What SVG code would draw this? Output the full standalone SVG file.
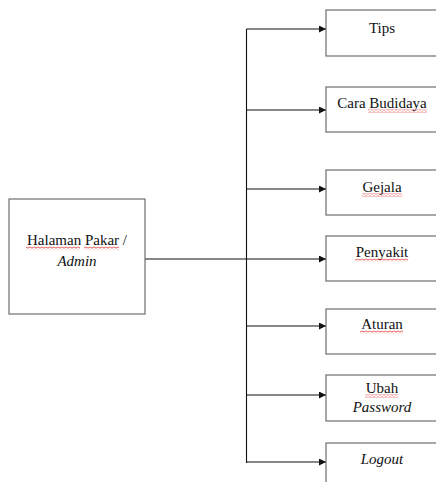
<svg xmlns="http://www.w3.org/2000/svg" width="436" height="482" viewBox="0 0 436 482" font-family="Liberation Serif, serif">
<style>
.box{fill:#fff;stroke:#6e6e6e;stroke-width:1.2}
.ln{fill:none;stroke:#111;stroke-width:1.1}
.t{font-size:15px;fill:#111;text-anchor:middle}
.i{font-style:italic}
.sq{fill:url(#squig)}
</style>
<defs>
<marker id="arr" viewBox="0 0 10 10" refX="10" refY="5" markerWidth="9" markerHeight="7" markerUnits="userSpaceOnUse" orient="auto">
<path d="M0 0 L10 5 L0 10 Z" fill="#111"/>
</marker>
<pattern id="squig" width="4" height="3" patternUnits="userSpaceOnUse">
<path d="M0 2.2 L2 0.8 L4 2.2" fill="none" stroke="#e02020" stroke-width="0.8"/>
</pattern>
</defs>
<rect width="436" height="482" fill="#fff"/>
<g id="connectors">
<line class="ln" x1="246.5" y1="29" x2="246.5" y2="463"/>
<line class="ln" x1="145" y1="259" x2="326" y2="259" marker-end="url(#arr)"/>
<line class="ln" x1="246.5" y1="29" x2="326" y2="29" marker-end="url(#arr)"/>
<line class="ln" x1="246.5" y1="110" x2="326" y2="110" marker-end="url(#arr)"/>
<line class="ln" x1="246.5" y1="189" x2="326" y2="189" marker-end="url(#arr)"/>
<line class="ln" x1="246.5" y1="326" x2="326" y2="326" marker-end="url(#arr)"/>
<line class="ln" x1="246.5" y1="395" x2="326" y2="395" marker-end="url(#arr)"/>
<line class="ln" x1="246.5" y1="462" x2="326" y2="462" marker-end="url(#arr)"/>
</g>
<g id="admin">
<rect class="box" x="9" y="199" width="136" height="115"/>
<text class="t" x="77" y="245" font-family="Liberation Serif, serif">Halaman Pakar /</text>
<text class="t i" x="77" y="266" font-family="Liberation Serif, serif">Admin</text>
<rect class="sq" x="26" y="246.5" width="54" height="3"/>
<rect class="sq" x="84" y="246.5" width="35" height="3"/>
</g>
<g id="tips">
<rect class="box" x="326" y="10" width="112" height="46"/>
<text class="t" x="382" y="33" font-family="Liberation Serif, serif">Tips</text>
</g>
<g id="cara">
<rect class="box" x="326" y="87" width="112" height="45"/>
<text class="t" x="382" y="108" font-family="Liberation Serif, serif">Cara Budidaya</text>
<rect class="sq" x="368" y="109.5" width="59" height="3"/>
</g>
<g id="gejala">
<rect class="box" x="326" y="170" width="112" height="45"/>
<text class="t" x="382" y="192" font-family="Liberation Serif, serif">Gejala</text>
<rect class="sq" x="362" y="193.5" width="40" height="3"/>
</g>
<g id="penyakit">
<rect class="box" x="326" y="236" width="112" height="45"/>
<text class="t" x="382" y="257" font-family="Liberation Serif, serif">Penyakit</text>
<rect class="sq" x="355" y="258.5" width="53" height="3"/>
</g>
<g id="aturan">
<rect class="box" x="326" y="309" width="112" height="45"/>
<text class="t" x="382" y="329" font-family="Liberation Serif, serif">Aturan</text>
<rect class="sq" x="360" y="330.5" width="43" height="3"/>
</g>
<g id="ubah">
<rect class="box" x="326" y="375" width="112" height="46"/>
<text class="t" x="382" y="393" font-family="Liberation Serif, serif">Ubah</text>
<text class="t i" x="382" y="412" font-family="Liberation Serif, serif">Password</text>
<rect class="sq" x="365" y="394.5" width="33" height="3"/>
</g>
<g id="logout">
<rect class="box" x="326" y="443" width="112" height="46"/>
<text class="t i" x="382" y="464" font-family="Liberation Serif, serif">Logout</text>
</g>
</svg>
